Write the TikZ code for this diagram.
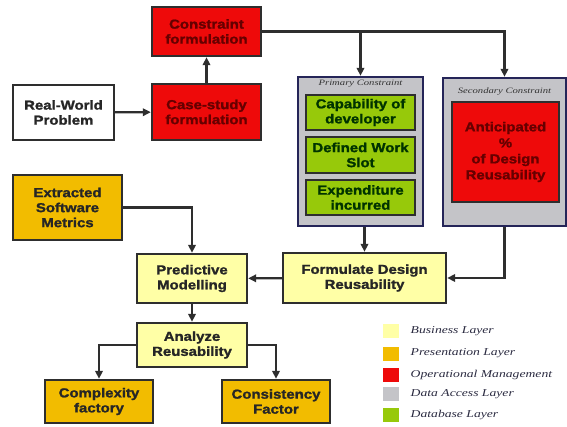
\documentclass[tikz,border=0pt]{standalone}
\usepackage{fontspec}
\setmainfont{Liberation Sans}
\newfontfamily\boxfont[FakeStretch=1.15,FakeBold=1.5]{Liberation Sans}
\newfontfamily\keyfont[FakeStretch=1.3]{Liberation Serif}
\usepackage{xcolor}
\usepackage{tikz}
\usetikzlibrary{arrows.meta}

\definecolor{bizyellow}{HTML}{FFFFA6}
\definecolor{presorange}{HTML}{F2BC00}
\definecolor{opred}{HTML}{EE0A0A}
\definecolor{dagray}{HTML}{C4C4C8}
\definecolor{dbgreen}{HTML}{97C90A}
\definecolor{linegray}{HTML}{2E2E2E}
\definecolor{keyblue}{HTML}{2A2A40}

\tikzset{
  blk/.style={draw=linegray, line width=2.4pt, align=center, inner sep=0pt,
    text=black!85, font=\boxfont\bfseries\fontsize{13}{15}\selectfont},
  bizbox/.style={blk, fill=bizyellow},
  presbox/.style={blk, fill=presorange},
  opbox/.style={blk, fill=opred, text=red!40!black},
  dabox/.style={blk, fill=dagray, draw=linegray!80!blue},
  dbbox/.style={blk, fill=dbgreen, text=black!80!green},
  conn/.style={draw=linegray, line width=2.2pt, -{Triangle[length=8pt,width=7.5pt]}},
  grptitle/.style={text=black!80, font=\keyfont\itshape\fontsize{8.2}{9}\selectfont},
  keysq/.style={minimum width=16pt, minimum height=14pt, inner sep=0pt},
  keytxt/.style={anchor=west, text=keyblue, font=\keyfont\itshape\fontsize{10.5}{12}\selectfont}
}

\begin{document}
\begin{tikzpicture}[x=1pt,y=-1pt]
\useasboundingbox (0,0) rectangle (567,427);

% Problem and constraints
\node[blk, fill=white, minimum width=101pt, minimum height=55pt] (real) at (63.5,112.5) {Real-World\\Problem};
\node[opbox, minimum width=109pt, minimum height=56pt] (case) at (206.5,112) {Case-study\\formulation};
\node[opbox, minimum width=109pt, minimum height=49pt] (cons) at (206.5,31.5) {Constraint\\formulation};

% Primary constraint group
\node[dabox, minimum width=125pt, minimum height=149pt] (prim) at (360.5,151.5) {};
\node[grptitle] (primtitle) at (360.5,84) {Primary Constraint};
\node[dbbox, minimum width=109pt, minimum height=35pt] (capab) at (360.5,112.5) {Capability of\\developer};
\node[dbbox, minimum width=109pt, minimum height=36pt] (slot) at (360.5,155) {Defined Work\\Slot};
\node[dbbox, minimum width=109pt, minimum height=35pt] (expend) at (360.5,197.5) {Expenditure\\incurred};

% Secondary constraint group
\node[dabox, minimum width=123pt, minimum height=148pt] (sec) at (504.5,152) {};
\node[grptitle] (sectitle) at (504.5,92) {Secondary Constraint};
\node[opbox, minimum width=107pt, minimum height=100pt, font=\boxfont\bfseries\fontsize{13}{16}\selectfont] (antic) at (505.5,152) {Anticipated\\\%\\of Design\\Reusability};

% Modelling and analysis
\node[bizbox, minimum width=163pt, minimum height=50pt] (form) at (364.5,278) {Formulate Design\\Reusability};
\node[bizbox, minimum width=110pt, minimum height=49pt] (pred) at (192,278.5) {Predictive\\Modelling};
\node[presbox, minimum width=109pt, minimum height=65pt] (extr) at (67.5,207.5) {Extracted\\Software\\Metrics};
\node[bizbox, minimum width=110pt, minimum height=44pt] (anal) at (192,345) {Analyze\\Reusability};
\node[presbox, minimum width=108pt, minimum height=43pt] (comp) at (99,401.5) {Complexity\\factory};
\node[presbox, minimum width=108pt, minimum height=43pt] (consis) at (276,401.5) {Consistency\\Factor};

% Connectors
\draw[conn] (real) -- (case);
\draw[conn] (case) -- (cons);
\draw[conn] (cons.east) -| (sec.north);
\draw[conn] (cons.east -| prim.north) -- (prim.north);
\draw[conn] (prim.south -| form.north) -- (form.north);
\draw[conn] (sec.south) |- (form.east);
\draw[conn] (form) -- (pred);
\draw[conn] (extr.east) -| (pred.north);
\draw[conn] (pred) -- (anal);
\draw[conn] (anal.west) -| (comp.north);
\draw[conn] (anal.east) -| (consis.north);

% Legend
\node[keysq, fill=bizyellow] (k1) at (391,331) {};
\node[keysq, fill=presorange] (k2) at (391,353.5) {};
\node[keysq, fill=opred] (k3) at (391,374.5) {};
\node[keysq, fill=dagray] (k4) at (391,394) {};
\node[keysq, fill=dbgreen] (k5) at (391,415) {};
\node[keytxt] at ([xshift=8pt]k1.east) {Business Layer};
\node[keytxt] at ([xshift=8pt]k2.east) {Presentation Layer};
\node[keytxt] at ([xshift=8pt]k3.east) {Operational Management};
\node[keytxt] at ([xshift=8pt]k4.east) {Data Access Layer};
\node[keytxt] at ([xshift=8pt]k5.east) {Database Layer};
\end{tikzpicture}
\end{document}
